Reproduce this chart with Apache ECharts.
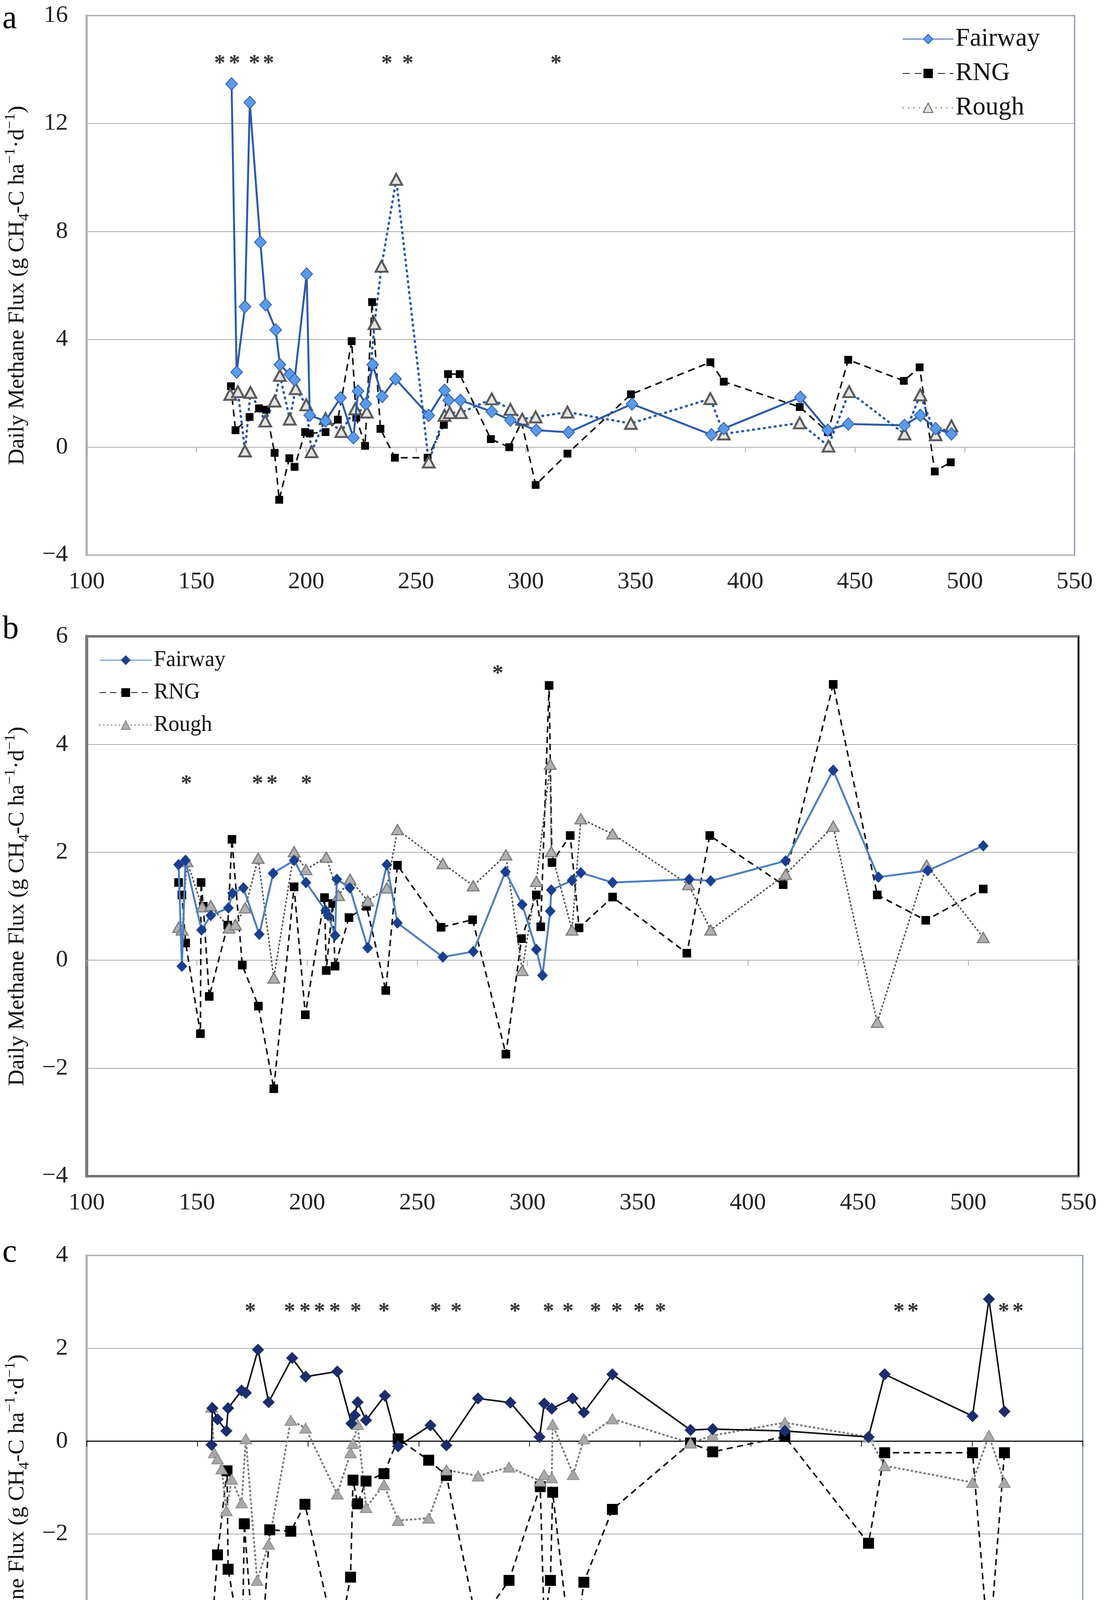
<!DOCTYPE html>
<html>
<head>
<meta charset="utf-8">
<script src="https://cdn.jsdelivr.net/npm/echarts@6/dist/echarts.min.js"></script>
<style>
html, body { margin: 0; padding: 0; background: #fff; }
#chart { width: 2835px; height: 5060px; }
</style>
</head>
<body>
<div id="chart"></div>
<script>
// ---- panel a ----
var aFairwayDay = [166.0, 168.3, 172.1, 174.3, 179.1, 181.5, 186.1, 188.0, 192.5, 194.7, 200.2, 201.6, 208.8, 215.6, 221.5, 223.6, 227.1, 230.3, 234.6, 240.7, 255.8, 263.0, 264.9, 270.2, 284.5, 293.0, 304.8, 319.5, 348.4, 384.6, 390.2, 425.1, 437.6, 446.9, 472.5, 479.7, 486.7, 493.9];
var aFairwayVal = [13.47, 2.78, 5.21, 12.78, 7.6, 5.28, 4.35, 3.06, 2.7, 2.5, 6.42, 1.18, 0.97, 1.83, 0.35, 2.08, 1.6, 3.06, 1.88, 2.53, 1.18, 2.11, 1.74, 1.74, 1.32, 1.0, 0.63, 0.55, 1.6, 0.46, 0.69, 1.85, 0.63, 0.86, 0.81, 1.18, 0.69, 0.49];
var aRngDay = [165.7, 167.8, 174.2, 178.5, 181.7, 185.6, 187.7, 192.3, 194.7, 199.5, 201.6, 208.8, 214.4, 220.7, 222.8, 226.8, 230.0, 233.8, 240.4, 255.3, 262.7, 264.6, 269.9, 284.1, 292.5, 298.1, 304.5, 319.0, 347.9, 384.1, 390.2, 424.8, 437.6, 446.9, 472.2, 479.4, 486.3, 493.6];
var aRngVal = [2.26, 0.63, 1.12, 1.44, 1.39, -0.21, -1.95, -0.41, -0.73, 0.56, 0.51, 0.56, 1.02, 3.93, 1.1, 0.05, 5.38, 0.68, -0.39, -0.39, 0.83, 2.71, 2.71, 0.3, 0.0, 0.93, -1.4, -0.24, 1.96, 3.15, 2.43, 1.49, 0.56, 3.24, 2.46, 2.96, -0.9, -0.56];
var aRoughDay = [165.4, 168.9, 172.1, 174.6, 181.3, 185.6, 188.0, 192.5, 195.2, 200.0, 202.4, 208.8, 216.0, 222.3, 227.6, 231.1, 234.3, 241.0, 255.8, 263.0, 265.4, 270.5, 284.5, 293.0, 298.4, 304.5, 319.0, 347.9, 384.1, 390.2, 424.8, 437.9, 447.3, 472.5, 479.7, 486.7, 493.9];
var aRoughVal = [1.96, 2.06, -0.14, 2.03, 0.97, 1.71, 2.66, 1.04, 2.17, 1.57, -0.17, 1.06, 0.58, 1.42, 1.3, 4.58, 6.71, 9.93, -0.55, 1.18, 1.28, 1.28, 1.79, 1.4, 1.04, 1.12, 1.3, 0.88, 1.8, 0.49, 0.9, 0.04, 2.06, 0.49, 1.94, 0.46, 0.79];
var aStarDay = [160.6, 167.3, 176.4, 182.8, 236.7, 246.3, 313.8];
var aStarLevel = [14.2, 14.2, 14.2, 14.2, 14.2, 14.2, 14.2];

// ---- panel b ----
var bFairwayDay = [141.7, 143.2, 144.8, 152.1, 156.3, 164.3, 166.2, 171.1, 178.3, 184.6, 194.1, 199.5, 208.4, 209.5, 212.7, 213.5, 219.4, 227.5, 236.2, 241.0, 261.6, 275.4, 290.0, 297.6, 304.0, 306.8, 310.3, 310.8, 320.2, 324.2, 338.6, 373.4, 383.1, 417.1, 438.7, 459.2, 481.6, 506.8];
var bFairwayVal = [1.77, -0.11, 1.85, 0.56, 0.83, 0.97, 1.24, 1.34, 0.48, 1.61, 1.85, 1.44, 0.92, 0.83, 0.46, 1.5, 1.34, 0.23, 1.77, 0.69, 0.06, 0.16, 1.64, 1.03, 0.2, -0.28, 0.91, 1.3, 1.48, 1.62, 1.44, 1.5, 1.47, 1.84, 3.52, 1.54, 1.66, 2.12];
var bRngDay = [141.7, 143.2, 144.9, 151.6, 151.9, 152.9, 155.6, 164.0, 165.9, 170.6, 177.9, 184.9, 194.1, 199.2, 207.9, 208.7, 211.6, 212.7, 219.0, 227.0, 235.7, 241.0, 260.8, 275.1, 290.2, 297.3, 304.0, 306.0, 309.8, 311.1, 319.4, 323.4, 338.6, 372.3, 382.7, 416.0, 438.7, 458.7, 480.7, 506.8];
var bRngVal = [1.44, 1.21, 0.32, -1.36, 1.44, 1.0, -0.67, 0.65, 2.24, -0.09, -0.85, -2.38, 1.36, -1.01, 1.16, -0.19, 1.05, -0.11, 0.79, 1.0, -0.56, 1.76, 0.61, 0.75, -1.74, 0.4, 1.21, 0.62, 5.09, 1.81, 2.31, 0.6, 1.17, 0.13, 2.31, 1.4, 5.11, 1.21, 0.74, 1.32];
var bRoughDay = [141.7, 143.3, 145.5, 152.4, 156.3, 164.6, 167.5, 171.9, 177.8, 184.9, 194.1, 199.5, 208.7, 214.3, 219.5, 227.5, 236.2, 241.0, 261.6, 275.4, 290.2, 297.6, 304.0, 310.3, 310.8, 320.2, 324.2, 338.6, 373.1, 383.1, 417.1, 438.7, 458.7, 481.1, 506.8];
var bRoughVal = [0.61, 0.56, 1.83, 0.99, 1.01, 0.6, 0.66, 0.97, 1.89, -0.33, 2.01, 1.68, 1.91, 1.2, 1.5, 1.1, 1.34, 2.42, 1.79, 1.38, 1.95, -0.19, 1.46, 3.63, 2.01, 0.56, 2.62, 2.34, 1.4, 0.56, 1.59, 2.48, -1.15, 1.76, 0.42];
var bStarDay = [145.2, 177.5, 184.1, 199.7, 286.5];
var bStarLevel = [3.26, 3.26, 3.26, 3.26, 5.3];

// ---- panel c ----
var cFairwayDay = [156.4, 156.8, 159.1, 163.1, 163.9, 170.0, 171.9, 177.4, 182.2, 192.8, 198.9, 213.2, 219.6, 221.1, 222.4, 226.2, 234.7, 240.7, 255.3, 262.5, 276.8, 291.4, 304.6, 306.7, 310.1, 319.5, 324.6, 337.5, 372.8, 382.8, 415.4, 453.2, 460.5, 500.2, 507.6, 514.6];
var cFairwayVal = [-0.08, 0.71, 0.47, 0.22, 0.71, 1.09, 1.04, 1.97, 0.84, 1.79, 1.39, 1.5, 0.38, 0.56, 0.84, 0.45, 0.98, -0.11, 0.34, -0.09, 0.92, 0.83, 0.09, 0.81, 0.7, 0.92, 0.62, 1.44, 0.24, 0.26, 0.22, 0.09, 1.44, 0.54, 3.06, 0.64];
var cRngDay = [156.0, 157.2, 159.1, 163.4, 163.9, 170.3, 171.2, 177.4, 182.7, 192.2, 198.6, 213.2, 219.2, 220.3, 222.4, 226.2, 234.3, 240.7, 254.5, 262.5, 276.5, 290.8, 304.9, 306.7, 309.5, 310.5, 319.5, 324.6, 337.5, 372.8, 382.8, 415.4, 453.2, 460.5, 500.2, 507.6, 514.6];
var cRngVal = [-4.38, -3.67, -2.45, -0.64, -2.76, -4.52, -1.78, -5.68, -1.91, -1.94, -1.36, -4.46, -2.93, -0.84, -1.35, -0.86, -0.7, 0.05, -0.41, -0.74, -3.98, -3.0, -0.98, -4.0, -3.0, -1.1, -4.85, -3.04, -1.47, -0.04, -0.23, 0.1, -2.2, -0.25, -0.25, -4.57, -0.25];
var cRoughDay = [156.4, 157.6, 159.1, 161.0, 163.1, 165.5, 170.0, 171.9, 177.0, 182.2, 192.2, 198.9, 213.2, 219.2, 220.3, 222.4, 226.2, 234.3, 240.7, 254.5, 262.5, 276.8, 290.8, 304.9, 306.7, 310.1, 310.5, 319.8, 324.6, 337.5, 372.8, 382.8, 415.4, 453.2, 460.5, 500.2, 507.6, 514.6];
var cRoughVal = [0.73, -0.25, -0.38, -0.6, -1.5, -0.82, -1.33, 0.05, -3.0, -2.22, 0.45, 0.28, -1.14, -0.25, -0.05, 0.36, -1.43, -0.94, -1.71, -1.66, -0.62, -0.75, -0.56, -0.86, -0.72, -0.79, 0.36, -0.72, 0.05, 0.48, -0.04, 0.12, 0.4, 0.09, -0.53, -0.89, 0.12, -0.89];
var cStarDay = [173.9, 191.7, 198.6, 205.2, 212.1, 221.6, 234.3, 257.7, 266.9, 293.5, 308.6, 317.4, 329.9, 339.5, 349.5, 359.2, 466.9, 473.3, 514.3, 520.7];
var cStarLevel = 2.78;

// month row under panel c
var monthLetters = ['J', 'J', 'A', 'S', 'O', 'N', 'D', 'J', 'F', 'M', 'A', 'M', 'J'];
var monthDays = [141.0, 171.5, 202.0, 233.0, 263.0, 295.0, 326.7, 356.1, 384.2, 415.3, 448.2, 481.1, 511.6];

var serif = 'Liberation Serif';

function zip(days, vals) {
  return days.map(function (d, i) { return [d, Array.isArray(vals) ? vals[i] : vals]; });
}

function minusFmt(v) {
  return v < 0 ? '\u2212' + (-v) : String(v);
}

var yTitle = '{t|Daily Methane Flux (g CH}{s|4}{t|-C ha}{p|\u22121}{t|\u00b7d}{p|\u22121}{t|)}';
var yTitleStyle = {
  fontFamily: serif, fontSize: 58, color: '#111',
  rich: {
    t: { fontFamily: serif, fontSize: 58, lineHeight: 74, color: '#111' },
    s: { fontFamily: serif, fontSize: 38, lineHeight: 38, verticalAlign: 'bottom', color: '#111' },
    p: { fontFamily: serif, fontSize: 38, lineHeight: 38, verticalAlign: 'top', color: '#111' }
  }
};

function labelAxis(g, extra) {
  var ax = {
    gridIndex: g, type: 'value', min: 100, max: 550, interval: 50, position: 'bottom',
    axisLine: { show: false, onZero: false },
    axisTick: { show: false },
    splitLine: { show: false },
    axisLabel: { margin: 38, fontSize: 62, fontFamily: serif, color: '#222' }
  };
  return Object.assign(ax, extra || {});
}

function zeroAxis(g, color, width) {
  return {
    gridIndex: g, type: 'value', min: 100, max: 550, interval: 50, position: 'bottom',
    axisLine: { show: true, onZero: true, lineStyle: { color: color, width: width } },
    axisTick: { show: true, length: 14, lineStyle: { color: color, width: 2 } },
    axisLabel: { show: false },
    splitLine: { show: false }
  };
}

function yAxisFor(g, min, max, interval, edgeColor, edgeWidth) {
  return {
    gridIndex: g, type: 'value', min: min, max: max, interval: interval,
    axisLine: { show: true, onZero: false, lineStyle: { color: edgeColor, width: edgeWidth } },
    axisTick: { show: false },
    splitLine: { show: true, lineStyle: { color: '#a9a9a9', width: 2 } },
    axisLabel: { margin: 48, fontSize: 62, fontFamily: serif, color: '#222', formatter: minusFmt },
    name: yTitle, nameLocation: 'middle', nameRotate: 90, nameGap: 140,
    nameTextStyle: yTitleStyle
  };
}

function line(name, xi, yi, data, lineStyle, symbol, size, itemStyle, z) {
  return {
    name: name, type: 'line', xAxisIndex: xi, yAxisIndex: yi, data: data,
    lineStyle: lineStyle, symbol: symbol, symbolSize: size, itemStyle: itemStyle,
    showSymbol: true, z: z || 2
  };
}

function stars(xi, yi, data) {
  return {
    type: 'scatter', xAxisIndex: xi, yAxisIndex: yi, data: data, silent: true,
    symbolSize: 1, itemStyle: { color: 'rgba(0,0,0,0)' },
    label: { show: true, formatter: '*', position: 'inside', fontSize: 58, fontWeight: 'bold', color: '#000', fontFamily: serif },
    z: 5
  };
}

function legendNames(n) { return n.split(':')[1]; }

var chart = echarts.init(document.getElementById('chart'));
chart.setOption({
  animation: false,
  backgroundColor: '#fff',
  textStyle: { fontFamily: serif },
  grid: [
    { left: 197, right: 83, top: 40, height: 1381, show: true, borderColor: '#8293aa', borderWidth: 3 },
    { left: 195, right: 73, top: 1629, height: 1382, show: true, borderColor: '#1a1a1a', borderWidth: 5 },
    { left: 207, right: 62, top: 3214, height: 1435, show: true, borderColor: '#8293aa', borderWidth: 3 }
  ],
  xAxis: [
    labelAxis(0), zeroAxis(0, '#a9a9a9', 2),
    labelAxis(1), zeroAxis(1, '#a9a9a9', 2),
    labelAxis(2, { name: 'Day of Year', nameLocation: 'middle', nameGap: 112,
      nameTextStyle: { fontFamily: serif, fontSize: 62, color: '#222' } }),
    zeroAxis(2, '#111', 3),
    {
      gridIndex: 2, type: 'value', min: 100, max: 550, position: 'bottom',
      axisLine: { show: false, onZero: false },
      axisTick: { show: false },
      splitLine: { show: false },
      axisLabel: {
        customValues: monthDays, margin: 258, fontSize: 70, fontFamily: serif, color: '#111',
        formatter: function (v) { return monthLetters[monthDays.indexOf(v)]; }
      },
      name: 'Month', nameLocation: 'middle', nameGap: 345,
      nameTextStyle: { fontFamily: serif, fontSize: 74, color: '#111' }
    }
  ],
  yAxis: [
    yAxisFor(0, -4, 16, 4, '#b4b4b4', 6),
    yAxisFor(1, -4, 6, 2, '#7a7a7a', 8),
    yAxisFor(2, -8, 4, 2, '#b4b4b4', 6)
  ],
  legend: [
    {
      orient: 'vertical', left: 2306, top: 62, itemWidth: 130, itemHeight: 30, itemGap: 22,
      data: ['a:Fairway', 'a:RNG', 'a:Rough'], formatter: legendNames,
      textStyle: { fontFamily: serif, fontSize: 66, color: '#111' }
    },
    {
      orient: 'vertical', left: 249, top: 1657, itemWidth: 134, itemHeight: 28, itemGap: 27,
      data: ['b:Fairway', 'b:RNG', 'b:Rough'], formatter: legendNames,
      textStyle: { fontFamily: serif, fontSize: 56, color: '#111' }
    },
    {
      orient: 'vertical', left: 1890, top: 4330, itemWidth: 132, itemHeight: 30, itemGap: 19,
      data: ['c:Rough', 'c:Fairway', 'c:RNG'], formatter: legendNames,
      textStyle: { fontFamily: serif, fontSize: 66, color: '#111' }
    }
  ],
  graphic: [
    { type: 'text', left: 6, top: 8, style: { text: 'a', fontSize: 84, fontFamily: serif, fill: '#000' } },
    { type: 'text', left: 6, top: 1570, style: { text: 'b', fontSize: 84, fontFamily: serif, fill: '#000' } },
    { type: 'text', left: 6, top: 3166, style: { text: 'c', fontSize: 84, fontFamily: serif, fill: '#000' } }
  ],
  series: [
    // a
    line('a:RNG', 0, 0, zip(aRngDay, aRngVal), { color: '#111', width: 4, type: [18, 12] }, 'rect', 20, { color: '#000' }),
    line('a:Rough', 0, 0, zip(aRoughDay, aRoughVal), { color: '#2c5aa8', width: 6, type: [2, 12], cap: 'round' }, 'triangle', [30, 28],
      { color: '#e4e4e4', borderColor: '#5a5a5a', borderWidth: 5 }),
    line('a:Fairway', 0, 0, zip(aFairwayDay, aFairwayVal), { color: '#2c5aa8', width: 5 }, 'diamond', [30, 32],
      { color: '#5a9ae8', borderColor: '#2c5aa8', borderWidth: 2 }, 3),
    stars(0, 0, zip(aStarDay, aStarLevel)),
    // b
    line('b:RNG', 2, 1, zip(bRngDay, bRngVal), { color: '#111', width: 4, type: [16, 11] }, 'rect', 22, { color: '#000' }),
    line('b:Rough', 2, 1, zip(bRoughDay, bRoughVal), { color: '#555', width: 4, type: [2, 8], cap: 'round' }, 'triangle', [30, 26],
      { color: '#b0b0b0', borderColor: '#7c7c7c', borderWidth: 3 }),
    line('b:Fairway', 2, 1, zip(bFairwayDay, bFairwayVal), { color: '#4f7fbf', width: 5 }, 'diamond', [26, 28],
      { color: '#1b3f8f', borderColor: '#1b3f8f', borderWidth: 1 }, 3),
    stars(2, 1, zip(bStarDay, bStarLevel)),
    // c
    line('c:RNG', 4, 2, zip(cRngDay, cRngVal), { color: '#111', width: 4, type: [16, 11] }, 'rect', 28, { color: '#000' }),
    line('c:Rough', 4, 2, zip(cRoughDay, cRoughVal), { color: '#808080', width: 5, type: [2, 9], cap: 'round' }, 'triangle', [30, 26],
      { color: '#a8a8a8', borderColor: '#8a8a8a', borderWidth: 2 }),
    line('c:Fairway', 4, 2, zip(cFairwayDay, cFairwayVal), { color: '#111', width: 4 }, 'diamond', [30, 30],
      { color: '#1c2d6b', borderColor: '#1c2d6b', borderWidth: 1 }, 3),
    stars(4, 2, zip(cStarDay, cStarLevel))
  ]
});
</script>
</body>
</html>
